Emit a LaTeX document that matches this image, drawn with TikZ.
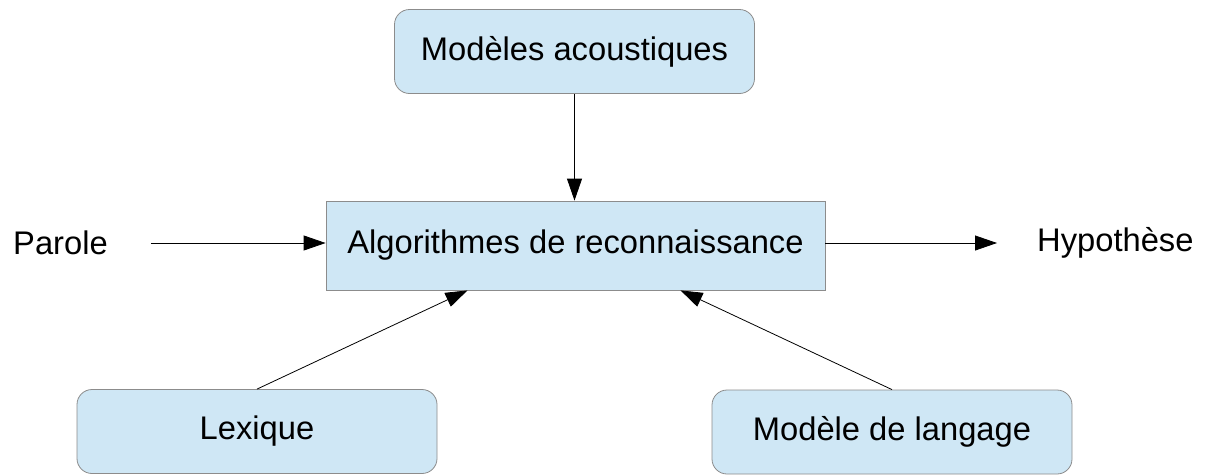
\documentclass[tikz,border=0pt]{standalone}
\usepackage{fontspec}
\setmainfont{Liberation Sans}
\usepackage{xcolor}
\usetikzlibrary{arrows.meta}

\definecolor{boxblue}{HTML}{CFE7F5}
\definecolor{boxgray}{HTML}{8C8C8C}

\tikzset{
    module/.style={draw=boxgray, fill=boxblue, line width=0.8pt, rounded corners=15pt,
        minimum width=360pt, minimum height=84pt, inner sep=0pt},
    central/.style={draw=boxgray, fill=boxblue, line width=0.8pt,
        minimum width=499pt, minimum height=89pt, inner sep=0pt},
    label/.style={inner sep=0pt},
    fleche/.style={line width=0.8pt, -{Triangle[length=22pt,width=15pt]}}
}

\begin{document}
\begin{tikzpicture}[x=1pt, y=-1pt, font=\fontsize{32.7}{39}\selectfont]
    \useasboundingbox (0,0) rectangle (1206,475);

    % Boxes
    \node[module] (acoustique) at (574.5,51.5) {Modèles acoustiques};
    \node[central] (algo) at (575.5,245.5) {Algorithmes de reconnaissance};
    \node[module] (lexique) at (257,431.5) {Lexique};
    \node[module] (langage) at (892,432) {Modèle de langage};

    % Input and output
    \node[label, anchor=west] (parole) at (13,243) {Parole};
    \node[label, anchor=west] (hypothese) at (1037,243) {Hypothèse};

    % Arrows
    \draw[fleche] (acoustique.south) -- (acoustique.south |- algo.north);
    \draw[fleche, shorten <=43pt] (parole.east) -- (parole.east -| algo.west);
    \draw[fleche, shorten >=40pt] (algo.east |- hypothese.west) -- (hypothese.west);
    \draw[fleche] (lexique.north) -- ([xshift=-108pt]algo.south);
    \draw[fleche] (langage.north) -- ([xshift=105pt]algo.south);
\end{tikzpicture}
\end{document}
